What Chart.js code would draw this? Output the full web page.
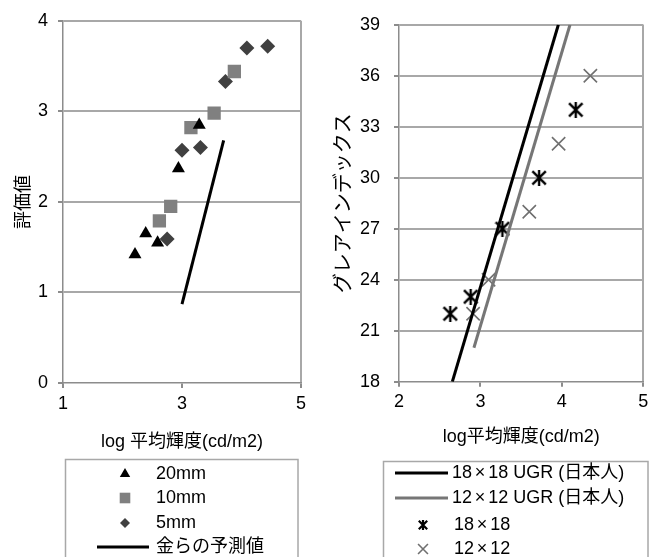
<!DOCTYPE html>
<html>
<head>
<meta charset="utf-8">
<script src="https://cdn.jsdelivr.net/npm/chart.js@4/dist/chart.umd.min.js"></script>
<style>
  html, body { margin: 0; padding: 0; background: #fff; }
  #wrap { position: relative; width: 660px; height: 557px; overflow: hidden; }
  .pane { position: absolute; top: 0; width: 330px; height: 557px; }
</style>
</head>
<body>
<div id="wrap">
  <div class="pane" style="left:0"><canvas id="left" width="330" height="557"></canvas></div>
  <div class="pane" style="left:330px"><canvas id="right" width="330" height="557"></canvas></div>
</div>
<script>
"use strict";

// 左: 評価値 vs log 平均輝度
const TRI_X = [2.21, 2.39, 2.59, 2.94, 3.29];
const TRI_Y = [1.42, 1.65, 1.55, 2.37, 2.85];
const SQ_X = [2.62, 2.81, 3.15, 3.54, 3.88];
const SQ_Y = [1.79, 1.95, 2.82, 2.98, 3.44];
const DIA_X = [2.75, 3.00, 3.31, 3.73, 4.09, 4.44];
const DIA_Y = [1.59, 2.57, 2.60, 3.33, 3.70, 3.72];
const KIM_X = [3.00, 3.70];
const KIM_Y = [0.87, 2.68];
const LEFT_X_TICKS = [1, 3, 5];
const LEFT_Y_TICKS = [0, 1, 2, 3, 4];

// 右: グレアインデックス vs log平均輝度
const UGR18_X = [2.655, 3.957];
const UGR18_Y = [18, 39];
const UGR12_X = [2.92, 4.10];
const UGR12_Y = [20, 39];
const S18_X = [2.63, 2.88, 3.27, 3.72, 4.17];
const S18_Y = [22, 23, 27, 30, 34];
const S12_X = [2.91, 3.10, 3.60, 3.96, 4.35];
const S12_Y = [22, 24, 28, 32, 36];
const RIGHT_X_TICKS = [2, 3, 4, 5];
const RIGHT_Y_TICKS = [18, 21, 24, 27, 30, 33, 36, 39];

const FAMILY = "'Liberation Sans', 'Noto Sans CJK JP', sans-serif";
const TICK_FONT = { family: FAMILY, size: 18 };
const TITLE_FONT = { family: FAMILY, size: 18 };
const LEGEND_SIZE = 18;
const GRID = "#a8a8a8";
const AXIS = "#8c8c8c";

function pts(xs, ys) {
  return xs.map((x, i) => ({ x, y: ys[i] }));
}

// Excel風のアスタリスク（縦線 + ×）
function asterisk(size, lw) {
  const c = document.createElement("canvas");
  c.width = c.height = size;
  const g = c.getContext("2d");
  g.strokeStyle = "#000";
  g.lineWidth = lw;
  const m = size / 2, a = size * 0.08, b = size - a;
  g.beginPath();
  g.moveTo(m, 0); g.lineTo(m, size);
  g.moveTo(a, a); g.lineTo(b, b);
  g.moveTo(b, a); g.lineTo(a, b);
  g.stroke();
  return c;
}

// "×" は全角幅で描く
function fillMixed(ctx, text, x, y, size) {
  text.split("×").forEach((part, i) => {
    if (i > 0) {
      ctx.textAlign = "center";
      ctx.fillText("×", x + size * 0.45, y);
      ctx.textAlign = "left";
      x += size * 0.9;
    }
    ctx.fillText(part, x, y);
    x += ctx.measureText(part).width;
  });
}

// 枠付きの縦並び凡例
const boxLegend = {
  id: "boxLegend",
  afterDraw(chart, args, o) {
    const ctx = chart.ctx;
    const [x1, y1, x2, y2] = o.box;
    ctx.save();
    ctx.strokeStyle = GRID;
    ctx.lineWidth = 1.5;
    ctx.strokeRect(x1, y1, x2 - x1, y2 - y1);
    ctx.font = LEGEND_SIZE + "px " + FAMILY;
    ctx.textBaseline = "middle";
    ctx.textAlign = "left";
    chart.data.datasets.forEach((ds, i) => {
      const y = o.rows[i];
      if (ds.showLine) {
        ctx.strokeStyle = ds.borderColor;
        ctx.lineWidth = ds.borderWidth;
        ctx.beginPath();
        ctx.moveTo(o.line[0], y);
        ctx.lineTo(o.line[1], y);
        ctx.stroke();
        ctx.fillStyle = "#000";
        fillMixed(ctx, ds.label, o.lineText, y, LEGEND_SIZE);
      } else {
        ctx.fillStyle = ds.backgroundColor;
        ctx.strokeStyle = ds.borderColor;
        ctx.lineWidth = ds.borderWidth;
        Chart.helpers.drawPoint(ctx, {
          pointStyle: ds.legendStyle || ds.pointStyle,
          radius: ds.legendRadius,
          borderWidth: ds.borderWidth,
          rotation: 0,
        }, o.markerX, y);
        ctx.fillStyle = "#000";
        fillMixed(ctx, ds.label, o.markerText, y, LEGEND_SIZE);
      }
    });
    ctx.restore();
  },
};

function xScale(min, max, ticks, title, padBottom) {
  return {
    type: "linear", min, max,
    afterBuildTicks: (s) => { s.ticks = ticks.map((v) => ({ value: v })); },
    afterFit: (s) => { s.height = 70; },
    border: { display: true, color: AXIS, width: 1.5 },
    grid: {
      color: (c) => (c.tick && c.tick.value === max ? GRID : "transparent"),
      lineWidth: 2, tickColor: AXIS, tickLength: 5,
    },
    ticks: { color: "#000", font: TICK_FONT, padding: 5, maxRotation: 0 },
    title: { display: true, text: title, color: "#000", font: TITLE_FONT, padding: { top: 0, bottom: padBottom } },
  };
}

function yScale(min, max, ticks, title, titleSize, padTop, width, tickPad) {
  return {
    type: "linear", min, max,
    afterBuildTicks: (s) => { s.ticks = ticks.map((v) => ({ value: v })); },
    afterFit: (s) => { s.width = width; },
    border: { display: true, color: AXIS, width: 1.5 },
    grid: {
      color: (c) => (c.tick && c.tick.value === min ? "transparent" : GRID),
      lineWidth: 2, tickColor: AXIS, tickLength: 5,
    },
    ticks: { color: "#000", font: TICK_FONT, padding: tickPad },
    title: {
      display: true, text: title, color: "#000",
      font: { family: FAMILY, size: titleSize },
      padding: { top: padTop, bottom: 0 },
    },
  };
}

function scatterSet(label, data, style, radius, fill, stroke, bw, legendRadius) {
  return {
    label, data, showLine: false,
    pointStyle: style, pointRadius: radius, pointHoverRadius: radius,
    backgroundColor: fill, borderColor: stroke, borderWidth: bw,
    pointBackgroundColor: fill, pointBorderColor: stroke, pointBorderWidth: bw,
    legendRadius,
  };
}

function lineSet(label, data, color, width) {
  return {
    label, data, showLine: true,
    borderColor: color, borderWidth: width, backgroundColor: color,
    pointRadius: 0, pointHoverRadius: 0, fill: false, tension: 0,
  };
}

Chart.defaults.font.family = FAMILY;

new Chart(document.getElementById("left"), {
  type: "scatter",
  data: {
    datasets: [
      scatterSet("20mm", pts(TRI_X, TRI_Y), "triangle", 7.5, "#000", "#000", 0, 6),
      scatterSet("10mm", pts(SQ_X, SQ_Y), "rect", 9.4, "#808080", "#808080", 0, 7.5),
      scatterSet("5mm", pts(DIA_X, DIA_Y), "rectRot", 7.5, "#404040", "#404040", 0, 5),
      lineSet("金らの予測値", pts(KIM_X, KIM_Y), "#000", 3),
    ],
  },
  options: {
    responsive: false,
    animation: false,
    layout: { padding: { left: 0, top: 18, right: 29, bottom: 104 } },
    scales: {
      x: xScale(1, 5, LEFT_X_TICKS, "log 平均輝度(cd/m2)", 0),
      y: yScale(0, 4, LEFT_Y_TICKS, "評価値", 18, 13, 63, 10),
    },
    plugins: {
      legend: { display: false },
      tooltip: { enabled: false },
      boxLegend: {
        box: [65.5, 459.5, 298, 580],
        rows: [474, 498, 523, 547],
        line: [97, 149], lineText: 156,
        markerX: 125, markerText: 156,
      },
    },
  },
  plugins: [boxLegend],
});

const star18 = asterisk(16, 2.4);
const star18small = asterisk(10, 2.2);
const s18 = scatterSet("18×18", pts(S18_X, S18_Y), star18, 8, "#000", "#000", 0, 5);
s18.legendStyle = star18small;

new Chart(document.getElementById("right"), {
  type: "scatter",
  data: {
    datasets: [
      lineSet("18×18 UGR (日本人)", pts(UGR18_X, UGR18_Y), "#000", 3),
      lineSet("12×12 UGR (日本人)", pts(UGR12_X, UGR12_Y), "#767676", 3),
      s18,
      scatterSet("12×12", pts(S12_X, S12_Y), "crossRot", 9.4, "#707070", "#707070", 1.6, 7),
    ],
  },
  options: {
    responsive: false,
    animation: false,
    layout: { padding: { left: 0, top: 16.7, right: 16.7, bottom: 105.3 } },
    scales: {
      x: xScale(2, 5, RIGHT_X_TICKS, "log平均輝度(cd/m2)", 4),
      y: yScale(18, 39, RIGHT_Y_TICKS, "グレアインデックス", 20, 2, 69, 14),
    },
    plugins: {
      legend: { display: false },
      tooltip: { enabled: false },
      boxLegend: {
        box: [53.5, 461.5, 318, 580],
        rows: [473, 498, 525, 549],
        line: [65, 118], lineText: 122,
        markerX: 93, markerText: 124,
      },
    },
  },
  plugins: [boxLegend],
});
</script>
</body>
</html>
